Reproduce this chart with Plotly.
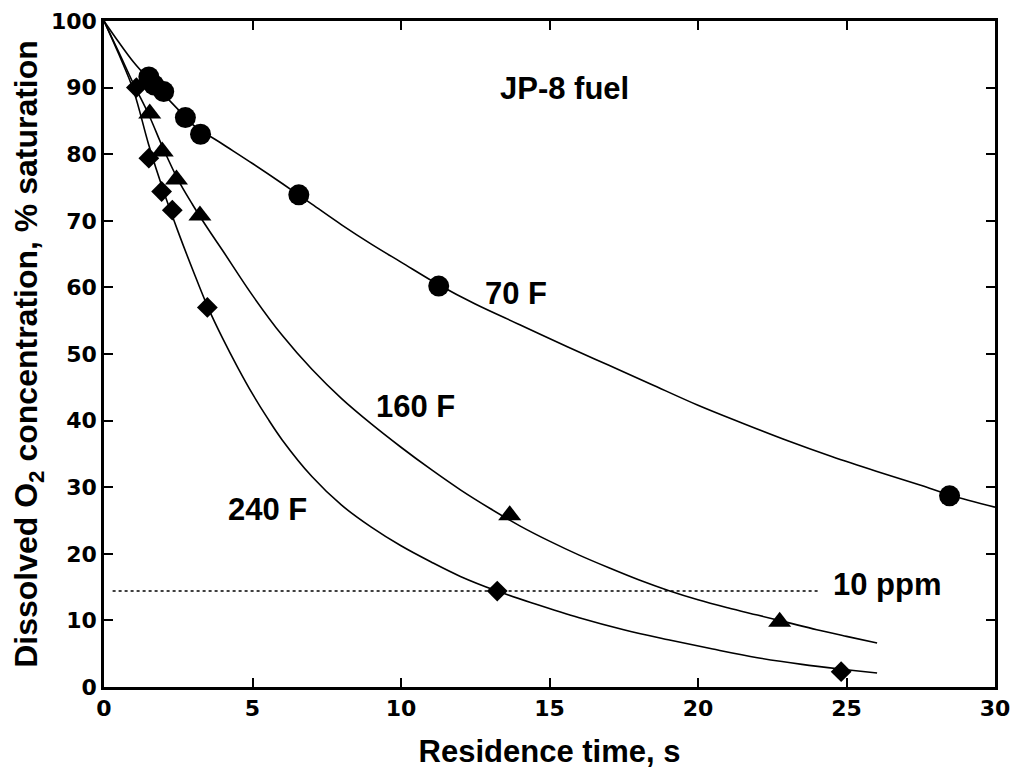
import plotly.graph_objects as go

# ---- data ----
# measured points
t70 = [1.51, 1.68, 2.01, 2.74, 3.25, 6.56, 11.27, 28.47]
o70 = [91.6, 90.4, 89.4, 85.5, 83.0, 73.9, 60.2, 28.7]
t160 = [1.54, 1.96, 2.44, 3.23, 13.66, 22.75]
o160 = [86.1, 80.4, 76.2, 70.8, 25.8, 9.8]
t240 = [1.09, 1.51, 1.94, 2.30, 3.48, 13.24, 24.82]
o240 = [90.0, 79.4, 74.4, 71.6, 57.0, 14.4, 2.3]

# model curves
ct70 = [0, 0.5, 1.0, 1.5, 2.0, 2.5, 3.0, 4.0, 5.0, 6.0, 7.0, 8.0, 9.0, 10.0, 11.27,
        12.5, 14.0, 15.6, 17.0, 18.4, 20.0, 21.5, 23.0, 24.5, 26.0, 27.5, 28.5, 30.0]
co70 = [100, 96.8, 93.8, 91.3, 89.0, 86.7, 84.4, 81.5, 78.6, 75.6, 72.5, 69.4, 66.5, 63.8, 60.4,
        57.5, 54.4, 51.1, 48.3, 45.5, 42.3, 39.6, 37.0, 34.6, 32.4, 30.3, 28.8, 27.0]
ct160 = [0, 0.5, 1.0, 1.5, 2.0, 2.5, 3.0, 3.5, 4.0, 5.0, 6.0, 7.0, 8.0, 9.0, 10.0,
         11.0, 12.0, 13.0, 14.0, 15.0, 16.0, 17.0, 18.0, 19.0, 20.0, 21.0, 22.0,
         23.0, 24.0, 25.0, 26.03]
co160 = [100, 95.3, 90.5, 86.0, 80.8, 76.1, 72.3, 68.8, 65.5, 58.8, 52.8, 47.7, 43.3, 39.5, 36.0,
         32.7, 29.6, 26.8, 24.2, 21.9, 19.8, 17.9, 16.1, 14.5, 13.1, 11.9, 10.8,
         9.7, 8.6, 7.6, 6.6]
ct240 = [0, 0.5, 1.0, 1.5, 2.0, 2.5, 3.0, 3.5, 4.0, 4.5, 5.0, 5.5, 6.0, 7.0, 8.0,
         9.0, 10.0, 11.0, 12.0, 13.24, 14.5, 16.0, 17.5, 19.0, 20.5, 22.0, 23.5, 25.0, 26.03]
co240 = [100, 95.0, 89.5, 81.5, 74.5, 68.3, 62.5, 57.0, 52.3, 48.0, 44.0, 40.4, 37.1, 31.6, 27.3,
         24.0, 21.2, 18.8, 16.6, 14.4, 12.5, 10.4, 8.6, 7.1, 5.7, 4.4, 3.4, 2.6, 2.1]

# 10 ppm reference level
ppm_t = [0.29, 24.07]
ppm_o = [14.4, 14.4]

x_ticks = [0, 5, 10, 15, 20, 25, 30]
y_ticks = [0, 10, 20, 30, 40, 50, 60, 70, 80, 90, 100]

BLACK = "#000000"
TXT = "Liberation Sans, Arial, sans-serif"
TICKF = "DejaVu Sans, Liberation Sans, sans-serif"

fig = go.Figure()

line_style = dict(color=BLACK, width=1.6, shape="spline", smoothing=1.0)
for ct, co, nm in [(ct70, co70, "70 F fit"), (ct160, co160, "160 F fit"), (ct240, co240, "240 F fit")]:
    fig.add_trace(go.Scatter(x=ct, y=co, mode="lines", line=line_style, name=nm,
                             showlegend=False, hoverinfo="skip"))

fig.add_trace(go.Scatter(x=ppm_t, y=ppm_o, mode="lines",
                         line=dict(color=BLACK, width=1.5, dash="dot"),
                         showlegend=False, name="10 ppm"))

fig.add_trace(go.Scatter(x=t70, y=o70, mode="markers", name="70 F",
                         marker=dict(symbol="circle", size=21, color=BLACK), showlegend=False))
fig.add_trace(go.Scatter(x=t160, y=o160, mode="markers", name="160 F",
                         marker=dict(symbol="triangle-up", size=20, color=BLACK), showlegend=False))
fig.add_trace(go.Scatter(x=t240, y=o240, mode="markers", name="240 F",
                         marker=dict(symbol="diamond", size=16, color=BLACK), showlegend=False))

labels = [
    ("JP-8 fuel", 15.5, 89.9),
    ("70 F", 13.86, 59.1),
    ("160 F", 10.49, 42.1),
    ("240 F", 5.52, 26.6),
    ("10 ppm", 26.38, 15.4),
]
for txt, lx, ly in labels:
    fig.add_annotation(x=lx, y=ly, text="<b>%s</b>" % txt, showarrow=False,
                       font=dict(family=TXT, size=31, color=BLACK),
                       xanchor="center", yanchor="middle")

axis_common = dict(
    showline=True, linewidth=2.5, linecolor=BLACK, mirror="ticks",
    ticks="inside", ticklen=9, tickwidth=2, tickcolor=BLACK,
    showgrid=False, zeroline=False, ticklabeloverflow="allow",
    tickfont=dict(family=TICKF, size=22, color=BLACK, weight="bold"),
)

fig.update_xaxes(range=[0, 30], tickvals=x_ticks, **axis_common,
                 title=dict(text="<b>Residence time, s</b>",
                            font=dict(family=TXT, size=31, color=BLACK), standoff=21))
fig.update_yaxes(range=[0, 100], tickvals=y_ticks, **axis_common,
                 title=dict(text="<b>Dissolved O<sub>2</sub> concentration, % saturation</b>",
                            font=dict(family=TXT, size=32, color=BLACK), standoff=21))

# the page adds an 8 px body margin, so the margins are set 8 px smaller on top/left
fig.update_layout(
    width=1018, height=768,
    margin=dict(l=96, r=31, t=13, b=89, autoexpand=False),
    paper_bgcolor="white", plot_bgcolor="white",
    showlegend=False,
)

fig.write_html("out.html")
